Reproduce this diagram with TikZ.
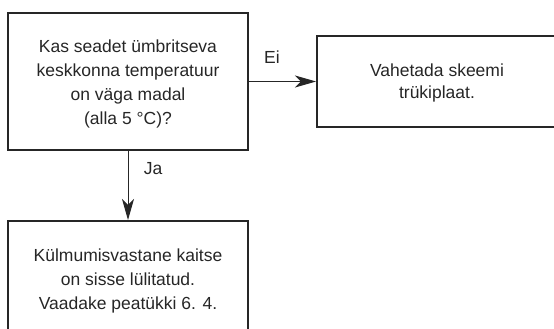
\documentclass[tikz,border=0pt]{standalone}
\usepackage{fontspec}
\setmainfont{Liberation Sans}
\usetikzlibrary{arrows.meta}
\begin{document}
\begin{tikzpicture}[x=1pt,y=-1pt,
  box/.style={draw=black!85, line width=2pt, rectangle, inner sep=0pt},
  txt/.style={align=center, inner sep=0pt, font=\fontsize{17.5}{24}\selectfont, text=black!85},
  conn/.style={draw=black!85, line width=1pt, -{Stealth[length=21pt,width=12pt,inset=6pt]}},
  lbl/.style={font=\fontsize{17.5}{20}\selectfont, text=black!85, inner sep=0pt}]
\useasboundingbox (0,0) rectangle (554,329);
\node[box, minimum width=240pt, minimum height=137pt] (b1) at (128,81.5) {};
\node[txt] (t1) at (128,84) {Kas seadet ümbritseva\\keskkonna temperatuur\\on väga madal\\(alla 5 °C)?};
\node[box, minimum width=239pt, minimum height=91pt] (b2) at (436.5,81.5) {};
\node[txt, font=\fontsize{17.5}{22.5}\selectfont] (t2) at (437,83) {Vahetada skeemi\\trükiplaat.};
\node[box, minimum width=240pt, minimum height=124pt] (b3) at (128,283) {};
\node[txt] (t3) at (128,280.5) {Külmumisvastane kaitse\\on sisse lülitatud.\\Vaadake peatükki 6. 4.};
\draw[conn] (b1.east) -- (b2.west);
\draw[conn] (b1.south) -- (b3.north);
\node[lbl] (ei) at (272,57.5) {Ei};
\node[lbl] (ja) at (153,169) {Ja};
\end{tikzpicture}
\end{document}
